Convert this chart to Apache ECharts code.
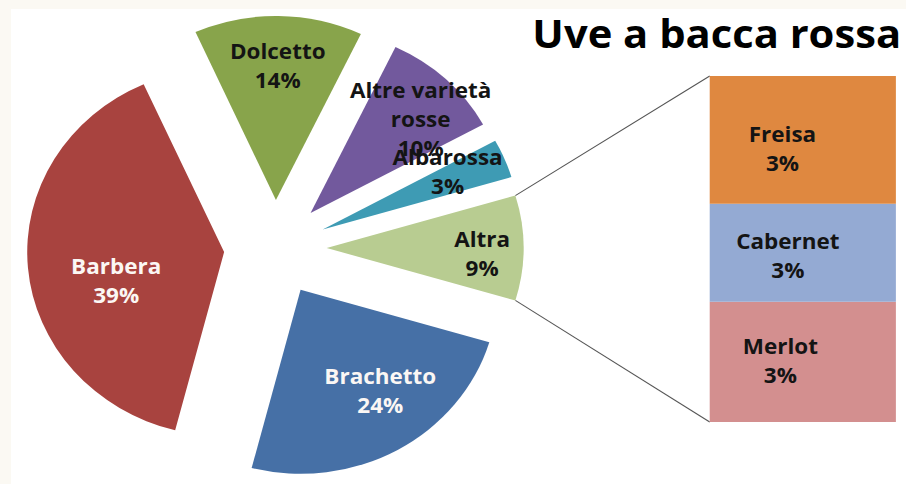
<!DOCTYPE html>
<html>
<head>
<meta charset="utf-8">
<title>Uve a bacca rossa</title>
<script src="https://cdn.jsdelivr.net/npm/echarts@6/dist/echarts.min.js"></script>
<style>
  html, body { margin: 0; padding: 0; background: #fbf9f3; }
  #frame { position: absolute; left: 11px; top: 9px; width: 895px; height: 475px; background: #fff; overflow: hidden; }
  /* the source picture is a bit wider than tall, so the chart is drawn narrow and stretched */
  #chart { width: 836px; height: 475px; transform: scaleX(1.07); transform-origin: 0 0; }
</style>
</head>
<body>
<div id="frame"><div id="chart"></div></div>
<script>
// pie slices (Altra = the three grapes shown in the bar on the right)
const pieNames = ['Altra', 'Brachetto', 'Barbera', 'Dolcetto', 'Altre varietà rosse', 'Albarossa']
const pieLabels = ['Altra', 'Brachetto', 'Barbera', 'Dolcetto', 'Altre varietà\nrosse', 'Albarossa']
const pieValues = [null, 24.4, 39.3, 13.8, 9.9, 3.4]
const subNames = ['Freisa', 'Cabernet', 'Merlot']
const subValues = [3.4, 2.6, 3.2]
const titleText = 'Uve a bacca rossa'

const pieColors = ['#b8cc91', '#4670a6', '#a8433f', '#88a44b', '#72599d', '#3e9bb4']
const subColors = ['#df8840', '#94aad3', '#d38f8f']
const whiteText = ['Brachetto', 'Barbera']

const subTotal = subValues.reduce((s, v) => s + v, 0)
pieValues[0] = subTotal
const total = pieValues.reduce((s, v) => s + v, 0)
const pct = v => Math.round(v / total * 100) + '%'

// layout
const center = [247, 239]
const radius = 184
const explode = 48
const gridBox = { left: 653, top: 67, width: 174, height: 346 }
// label distance (share of radius, from the exploded tip) and angle nudge
const labelTweak = {
  'Altra': [0.79, -2],
  'Brachetto': [0.68, 7],
  'Barbera': [0.57, 11],
  'Dolcetto': [0.73, 0],
  'Altre varietà rosse': [0.76, -4],
  'Albarossa': [0.71, 4]
}
const subLabelOffset = { 'Freisa': [-19, 8], 'Cabernet': [-14, 3], 'Merlot': [-21, -2] }

const startAngle = pieValues[0] / total * 180
const angles = []
let a0 = startAngle
pieValues.forEach(v => {
  const span = v / total * 360
  angles.push({ start: a0, end: a0 - span, mid: a0 - span / 2 })
  a0 -= span
})
const rad = d => d * Math.PI / 180

const font = '"Open Sans", "Liberation Sans", sans-serif'
const labelFont = { fontFamily: font, fontWeight: 'bold', fontSize: 21, lineHeight: 29 }

const pieData = pieNames.map((n, i) => ({
  name: n,
  value: pieValues[i],
  selected: true,
  itemStyle: { color: pieColors[i] }
}))

// pie labels, placed along each exploded slice
const pieTexts = pieNames.map((n, i) => {
  const ag = angles[i]
  const t = labelTweak[n]
  const la = rad(ag.mid + t[1])
  return {
    type: 'text',
    z: 100,
    x: center[0] + explode * Math.cos(rad(ag.mid)) + t[0] * radius * Math.cos(la),
    y: center[1] - explode * Math.sin(rad(ag.mid)) - t[0] * radius * Math.sin(la),
    style: Object.assign({
      text: pieLabels[i] + '\n' + pct(pieValues[i]),
      fill: whiteText.includes(n) ? '#fbf7f4' : '#141414',
      align: 'center',
      verticalAlign: 'middle'
    }, labelFont)
  }
})

// connector lines from the Altra slice corners to the bar
const altra = angles[0]
const tip = [center[0] + explode * Math.cos(rad(altra.mid)), center[1] - explode * Math.sin(rad(altra.mid))]
const cornerTop = [tip[0] + radius * Math.cos(rad(altra.start)), tip[1] - radius * Math.sin(rad(altra.start))]
const cornerBot = [tip[0] + radius * Math.cos(rad(altra.end)), tip[1] - radius * Math.sin(rad(altra.end))]

const subSeries = subNames.map((n, i) => ({
  name: n,
  type: 'bar',
  stack: 'altra',
  barWidth: '100%',
  data: [subValues[i]],
  itemStyle: { color: subColors[i] },
  label: Object.assign({
    show: true,
    position: 'inside',
    offset: subLabelOffset[n],
    formatter: p => p.seriesName + '\n' + pct(p.value),
    color: '#141414'
  }, labelFont)
})).reverse()

const chart = echarts.init(document.getElementById('chart'), null, { renderer: 'svg' })
const option = {
  animation: false,
  backgroundColor: '#fff',
  title: {
    text: titleText,
    right: 4,
    top: 5,
    padding: 0,
    textStyle: { fontFamily: font, fontWeight: 'bold', fontSize: 39, color: '#000' }
  },
  grid: gridBox,
  xAxis: { type: 'category', data: ['Altra'], show: false },
  yAxis: { type: 'value', min: 0, max: subTotal, show: false },
  series: [
    {
      type: 'pie',
      center: center,
      radius: [0, radius],
      startAngle: startAngle,
      clockwise: true,
      selectedMode: 'multiple',
      selectedOffset: explode,
      emphasis: { disabled: true },
      data: pieData,
      label: { show: false },
      labelLine: { show: false }
    }
  ].concat(subSeries),
  graphic: [
    {
      type: 'polyline',
      shape: { points: [cornerTop, [gridBox.left, gridBox.top]] },
      style: { stroke: '#555', lineWidth: 1, fill: null }
    },
    {
      type: 'polyline',
      shape: { points: [cornerBot, [gridBox.left, gridBox.top + gridBox.height]] },
      style: { stroke: '#555', lineWidth: 1, fill: null }
    }
  ].concat(pieTexts)
}
chart.setOption(option)
</script>
</body>
</html>
